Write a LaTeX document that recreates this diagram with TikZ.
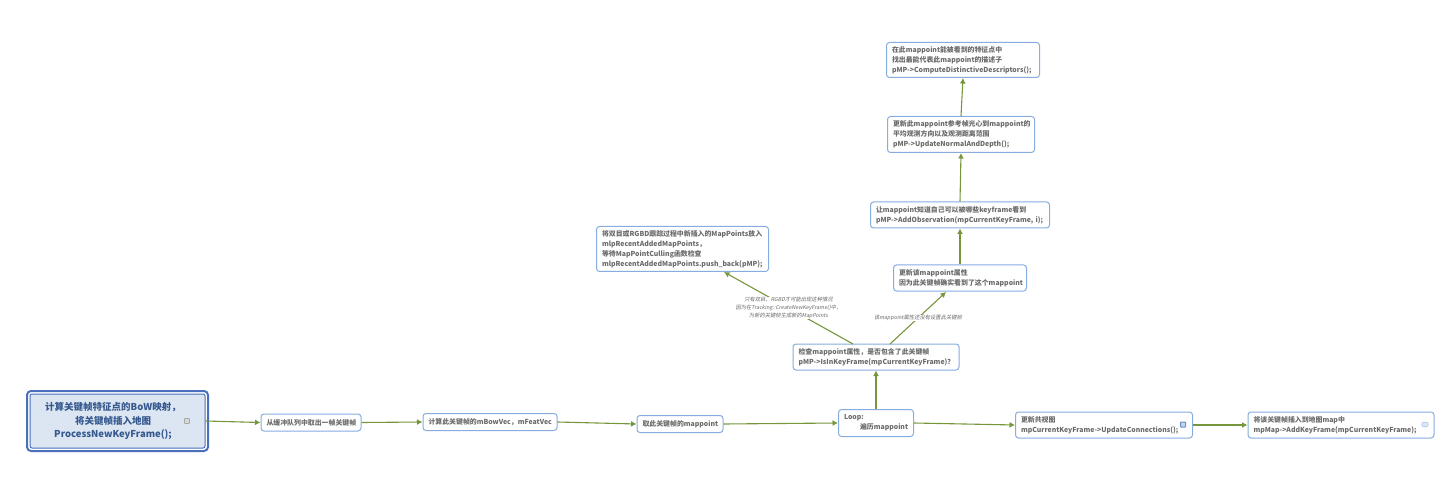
\documentclass[tikz,border=0pt]{standalone}
\usepackage{fontspec}
\setmainfont{Noto Sans CJK SC}
\newfontfamily\slantcjk[FakeSlant=0.2]{Noto Sans CJK SC}
\usetikzlibrary{arrows.meta}
\definecolor{linkgreen}{HTML}{76963C}
\definecolor{boxblue}{HTML}{86ACE0}
\definecolor{textgray}{HTML}{6A6A6A}
\definecolor{rootblue}{HTML}{4A70BC}
\definecolor{rootfill}{HTML}{DCE6F2}
\definecolor{roottext}{HTML}{35588E}
\newcommand{\rootline}[1]{\hspace*{-9pt}#1}
\tikzset{
	topicbox/.style={draw=boxblue, line width=1pt, fill=white, rounded corners=3pt, text=textgray, font=\fontsize{6.9}{10}\selectfont\bfseries, align=left, inner xsep=5.5pt, inner ysep=0pt, anchor=center},
	rootbox/.style={draw=rootblue, line width=1pt, fill=rootfill, rounded corners=2pt, text=roottext, font=\fontsize{9.5}{13.5}\selectfont\bfseries, align=center, inner sep=0pt},
	rootrim/.style={draw=rootblue, line width=2pt, rounded corners=4pt, inner sep=0pt},
	linkto/.style={draw=linkgreen, line width=1.1pt, -{Latex[length=5.5pt,width=6pt]}},
	linklabel/.style={text=textgray, font=\fontsize{5.3}{8}\selectfont\slantcjk, align=center, inner sep=0.5pt},
}
\begin{document}
\begin{tikzpicture}[x=1pt,y=-1pt]
	\useasboundingbox (0,0) rectangle (1445,478);
	% main row
	\node[rootrim, minimum width=181pt, minimum height=60pt] (rootedge) at (117.5,421) {};
	\node[rootbox, minimum width=175pt, minimum height=54pt] (root) at (117.5,421) {\rootline{计算关键帧特征点的BoW映射，}\\\rootline{将关键帧插入地图}\\\rootline{ProcessNewKeyFrame();}};
	\node[topicbox, text width=89pt, minimum height=17pt] (fetch) at (311,422.5) {从缓冲队列中取出一帧关键帧};
	\node[topicbox, text width=123pt, minimum height=17pt] (bow) at (490,422) {计算此关键帧的mBowVec，mFeatVec};
	\node[topicbox, text width=75pt, minimum height=17pt] (mpts) at (680,424) {取此关键帧的mappoint};
	\node[topicbox, text width=64pt, minimum height=27pt] (loop) at (876,423) {Loop:\\\hspace*{16pt}\mbox{遍历mappoint}};
	\node[topicbox, text width=166pt, minimum height=26pt] (conn) at (1104,425) {更新共视图\\mpCurrentKeyFrame->UpdateConnections();};
	\node[topicbox, text width=175pt, minimum height=26pt] (addkf) at (1341,425) {将该关键帧插入到地图map中\\mpMap->AddKeyFrame(mpCurrentKeyFrame);};
	% upward column
	\node[topicbox, text width=155pt, minimum height=26pt] (check) at (876,357) {检查mappoint属性，是否包含了此关键帧\\\mbox{pMP->IsInKeyFrame(mpCurrentKeyFrame)？}};
	\node[topicbox, text width=122pt, minimum height=26pt] (update) at (960,278) {更新该mappoint属性\\因为此关键帧确实看到了这个mappoint};
	\node[topicbox, text width=168pt, minimum height=26pt] (observe) at (960,215) {让mappoint知道自己可以被哪些keyframe看到\\pMP->AddObservation(mpCurrentKeyFrame, i);};
	\node[topicbox, text width=136pt, minimum height=36pt] (normal) at (961,134.5) {更新此mappoint参考帧光心到mappoint的\\平均观测方向以及观测距离范围\\pMP->UpdateNormalAndDepth();};
	\node[topicbox, text width=142pt, minimum height=35pt] (desc) at (963,60) {在此mappoint能被看到的特征点中\\找出最能代表此mappoint的描述子\\pMP->ComputeDistinctiveDescriptors();};
	\node[topicbox, text width=161pt, minimum height=45pt] (recent) at (682.5,249) {将双目或RGBD跟踪过程中新插入的MapPoints放入\\mlpRecentAddedMapPoints，\\等待MapPointCulling函数检查\\mlpRecentAddedMapPoints.push\_back(pMP);};
	% icons
	\node[draw=gray!70, fill=gray!30, line width=0.8pt, rounded corners=0.6pt, minimum size=5pt, inner sep=0pt] (noteicon) at (187,421) {};
	\node[draw=rootblue!80, fill=boxblue!50, line width=1pt, rounded corners=0.6pt, minimum size=5pt, inner sep=0pt] (connicon) at (1183,424.5) {};
	\node[draw=boxblue!70, fill=boxblue!30, line width=0.6pt, rounded corners=1pt, minimum width=6pt, minimum height=4.5pt, inner sep=0pt] (addicon) at (1425,424.5) {};
	% links
	\draw[linkto] (root.east) -- (fetch.west);
	\draw[linkto] (fetch.east) -- (bow.west);
	\draw[linkto] (bow.east) -- (mpts.west);
	\draw[linkto] (mpts.east) -- (loop.west);
	\draw[linkto] (loop.east) -- (conn.west);
	\draw[linkto] (conn.east) -- (addkf.west);
	\draw[linkto] (loop.north) -- (check.south);
	\draw[linkto] (update.north) -- (observe.south);
	\draw[linkto] (observe.north) -- (normal.south);
	\draw[linkto] (normal.north) -- (desc.south);
	\coordinate (checkleft) at (853,344);
	\coordinate (checkright) at (890,344);
	\coordinate (recentin) at (724,272);
	\coordinate (updatein) at (946,292);
	\draw[linkto] (checkleft) -- (recentin) node[pos=0.5, linklabel, fill=white] (whylabel) {只有双目、RGBD才可能出现这种情况\\因为在Tracking::CreateNewKeyFrame()中，\\为新的关键帧生成新的MapPoints};
	\draw[linkto] (checkright) -- (updatein) node[pos=0.5, linklabel, fill=white] (notlabel) {该mappoint属性还没有设置此关键帧};
\end{tikzpicture}
\end{document}
